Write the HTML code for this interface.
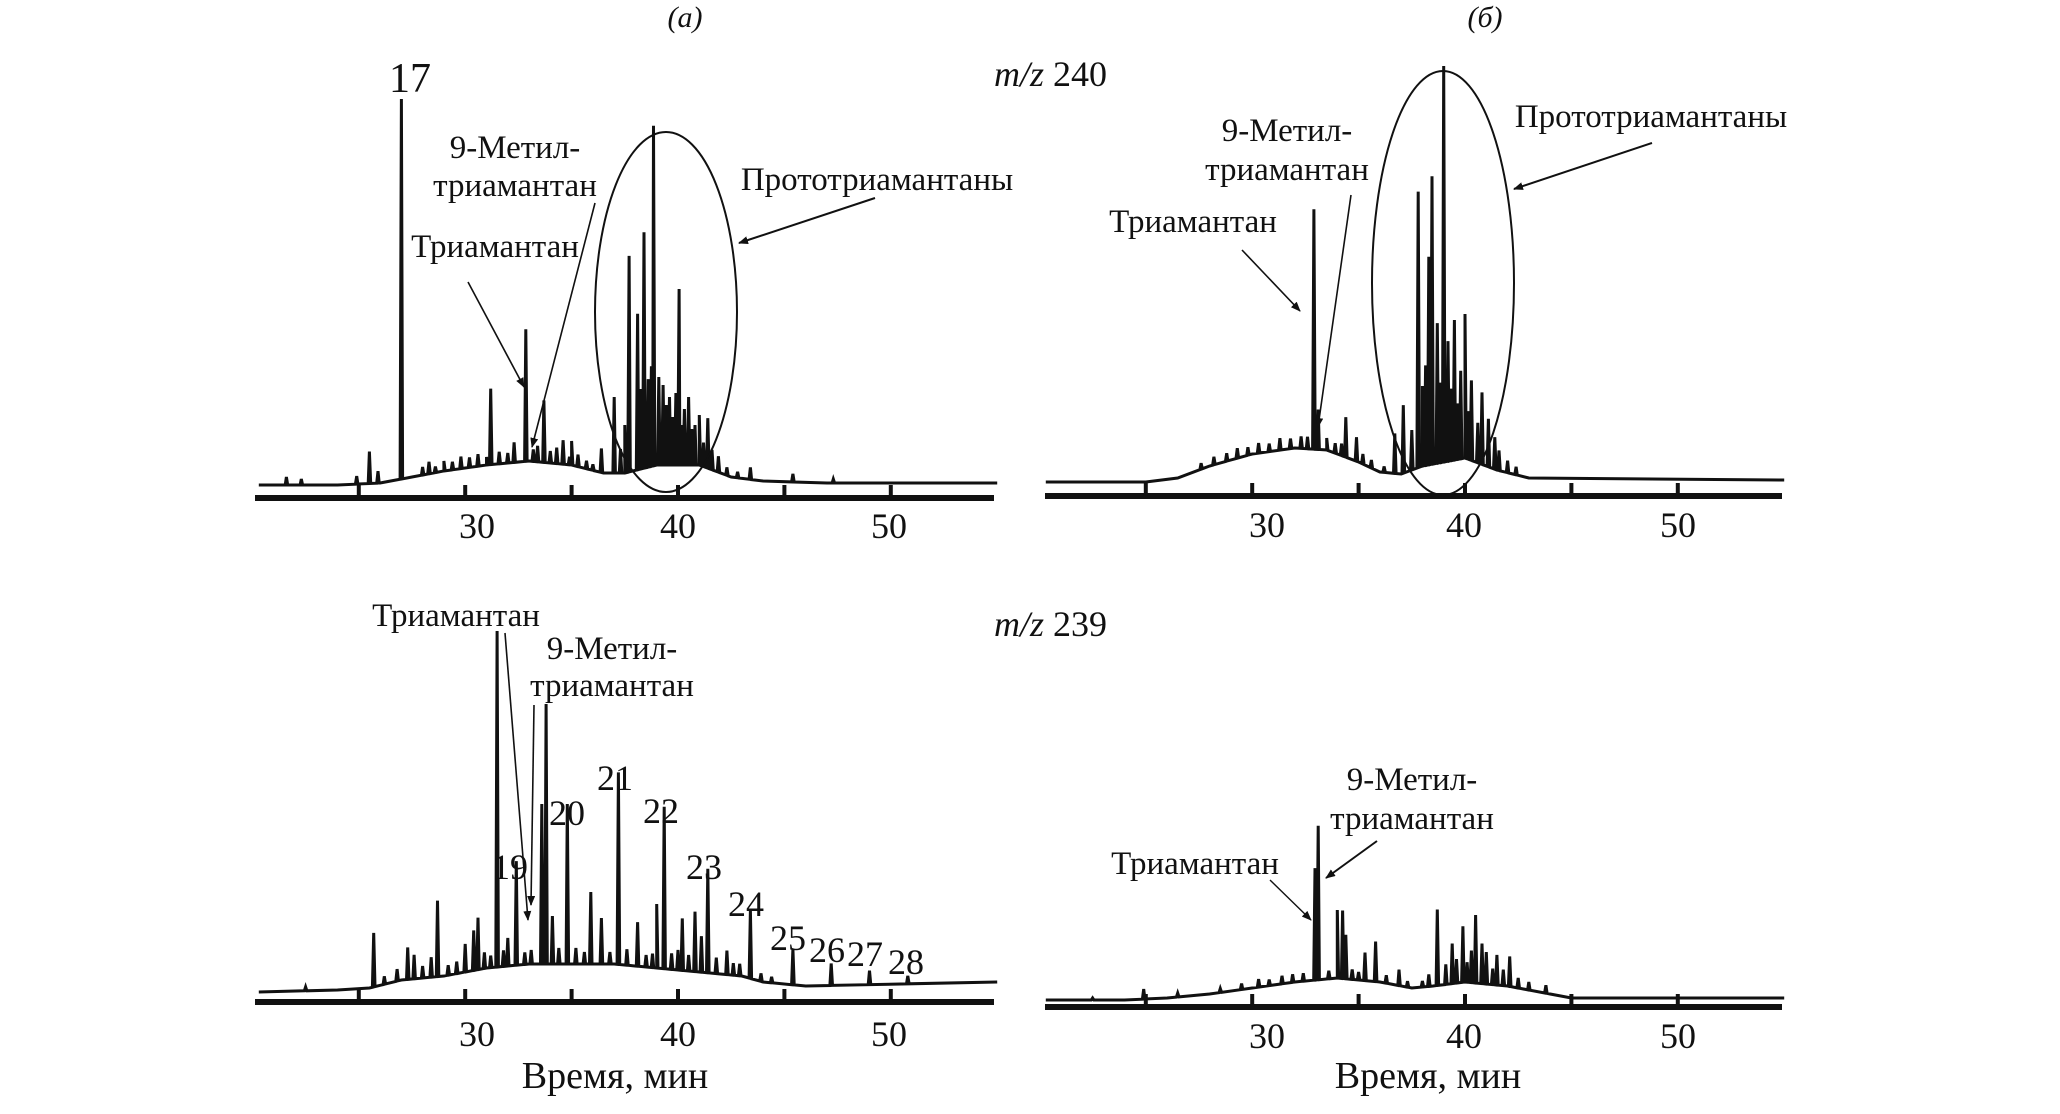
<!DOCTYPE html>
<html><head><meta charset="utf-8"><style>
html,body{margin:0;padding:0;background:#fff;}
svg{display:block;}
text{font-family:"Liberation Serif",serif;fill:#111;}
</style></head><body>
<svg id="fig" width="2060" height="1114" viewBox="0 0 2060 1114" xmlns="http://www.w3.org/2000/svg">
<defs><marker id="ah" markerWidth="10" markerHeight="8" refX="9" refY="4" orient="auto" markerUnits="userSpaceOnUse"><path d="M0,0 L10,4 L0,8 Z" fill="#111"/></marker></defs>
<text x="685" y="27" font-size="30" font-style="italic" text-anchor="middle">(а)</text>
<text x="1485" y="27" font-size="30" font-style="italic" text-anchor="middle">(б)</text>
<text x="1107" y="86" font-size="36" text-anchor="end"><tspan font-style="italic">m/z</tspan> 240</text>
<text x="1107" y="636" font-size="36" text-anchor="end"><tspan font-style="italic">m/z</tspan> 239</text>
<g id="plots"></g>
<g id="ann">
<text x="410" y="92" font-size="42" text-anchor="middle">17</text>
<ellipse cx="666" cy="312" rx="71" ry="180" fill="none" stroke="#111" stroke-width="2"/>
<text x="877" y="190" font-size="33" text-anchor="middle">Прототриамантаны</text>
<line x1="875" y1="198" x2="739" y2="243" stroke="#111" stroke-width="2" marker-end="url(#ah)"/>
<text x="515" y="158" font-size="33" text-anchor="middle">9-Метил-</text>
<text x="515" y="196" font-size="33" text-anchor="middle">триамантан</text>
<line x1="595" y1="203" x2="532" y2="447" stroke="#111" stroke-width="1.6" marker-end="url(#ah)"/>
<text x="495" y="257" font-size="33" text-anchor="middle">Триамантан</text>
<line x1="468" y1="282" x2="524" y2="387" stroke="#111" stroke-width="1.6" marker-end="url(#ah)"/>
<ellipse cx="1443" cy="283" rx="71" ry="212" fill="none" stroke="#111" stroke-width="2"/>
<text x="1651" y="127" font-size="33" text-anchor="middle">Прототриамантаны</text>
<line x1="1652" y1="143" x2="1514" y2="189" stroke="#111" stroke-width="2" marker-end="url(#ah)"/>
<text x="1287" y="141" font-size="33" text-anchor="middle">9-Метил-</text>
<text x="1287" y="180" font-size="33" text-anchor="middle">триамантан</text>
<line x1="1351" y1="195" x2="1318" y2="427" stroke="#111" stroke-width="1.6" marker-end="url(#ah)"/>
<text x="1193" y="232" font-size="33" text-anchor="middle">Триамантан</text>
<line x1="1242" y1="250" x2="1300" y2="311" stroke="#111" stroke-width="1.6" marker-end="url(#ah)"/>
<text x="456" y="626" font-size="33" text-anchor="middle">Триамантан</text>
<line x1="505" y1="633" x2="528" y2="920" stroke="#111" stroke-width="1.6" marker-end="url(#ah)"/>
<text x="612" y="659" font-size="33" text-anchor="middle">9-Метил-</text>
<text x="612" y="696" font-size="33" text-anchor="middle">триамантан</text>
<line x1="534" y1="705" x2="531" y2="905" stroke="#111" stroke-width="1.6" marker-end="url(#ah)"/>
<text x="1195" y="874" font-size="33" text-anchor="middle">Триамантан</text>
<line x1="1270" y1="880" x2="1311" y2="920" stroke="#111" stroke-width="1.4" marker-end="url(#ah)"/>
<text x="1412" y="790" font-size="33" text-anchor="middle">9-Метил-</text>
<text x="1412" y="829" font-size="33" text-anchor="middle">триамантан</text>
<line x1="1377" y1="841" x2="1326" y2="878" stroke="#111" stroke-width="2" marker-end="url(#ah)"/>
<text x="510" y="879" font-size="36" text-anchor="middle">19</text>
<text x="567" y="825" font-size="36" text-anchor="middle">20</text>
<text x="615" y="790" font-size="36" text-anchor="middle">21</text>
<text x="661" y="823" font-size="36" text-anchor="middle">22</text>
<text x="704" y="879" font-size="36" text-anchor="middle">23</text>
<text x="746" y="916" font-size="36" text-anchor="middle">24</text>
<text x="788" y="950" font-size="36" text-anchor="middle">25</text>
<text x="827" y="962" font-size="36" text-anchor="middle">26</text>
<text x="865" y="966" font-size="36" text-anchor="middle">27</text>
<text x="906" y="974" font-size="36" text-anchor="middle">28</text>
<text x="615" y="1088" font-size="38" text-anchor="middle">Время, мин</text>
<text x="1428" y="1088" font-size="38" text-anchor="middle">Время, мин</text>
</g>
</svg>
<script>
// ---- data (retention time, min; intensity, arb. units) ----
const tickTimes = [25, 30, 35, 40, 45, 50];
const tickLabels = ["30", "40", "50"];

const topAPeakT = [21.6,22.3,24.9,25.5,25.9,27.0,28.3,31.2,32.3,32.85,33.7,34.6,35.0,36.4,37.0,37.5,37.7,38.1,38.4,38.6,38.85,39.1,39.3,39.6,39.9,40.05,40.3,40.5,40.8,41.0,41.4,41.9,43.4,45.4,47.3];
const topAPeakH = [2,1.5,2,8,3,95,3,19,5,33,15.5,6,6,6,19,12,54,39,59,22,85,22,20,17,18,44,14,17,10,12.5,12.5,4,3,2,1];
const topANoiseT = [28.0,28.6,29.0,29.4,29.8,30.2,30.6,31.0,31.6,32.0,33.2,33.4,34.0,34.3,34.9,35.3,35.7,36.0,37.3,38.25,38.75,39.45,39.75,40.15,40.65,41.2,41.6,42.3,42.8];
const topANoiseH = [2,1.5,2.5,2,3,2.5,3,2,3,2.5,3,4,3,4,2,3,2,1.5,6,20,25,15,12,10,9,6,5,2,1.5];
const topAHumpT = [20.3,24,26,27.5,29,31,33,35,36.5,37.5,39,41,42.5,44,47,55];
const topAHumpV = [0,0,0.5,2,3.5,5,6,5,3,3,5,5,2,1,0.5,0.5];

const topBPeakT = [32.9,33.1,34.4,34.9,36.7,37.1,37.8,38.0,38.3,38.45,38.7,39.0,39.2,39.5,39.8,40.0,40.3,40.8,41.1,41.4,42.0];
const topBPeakH = [60,10,10,6,10,17,69,20,52,72,35,99,30,35,22,36,20,18,12,8,3];
const topBNoiseT = [27.6,28.2,28.8,29.3,29.8,30.3,30.8,31.3,31.8,32.3,32.6,33.5,33.9,34.2,35.2,35.6,36.2,37.5,38.15,38.85,39.35,39.65,40.15,40.6,41.6,42.4];
const topBNoiseH = [1.5,2,2,2.5,2,2.5,2,3,2.5,3,3,3,2.5,3,2.5,2,1.5,10,25,20,18,14,12,10,5,2];
const topBHumpT = [20.3,25,26.5,28,30,32,33.5,35,36,37,38,40,41.5,43,55];
const topBHumpV = [0,0,1,4,7,8.5,8,5,2.5,2,4,6,3,1,0.5];

const botAPeakT = [22.5,25.7,27.3,27.6,28.4,28.7,30.0,30.4,30.6,31.5,32.0,32.4,33.6,33.8,34.1,34.8,35.9,36.4,37.2,38.1,39.0,39.35,40.2,40.8,41.1,41.4,42.3,43.4,45.4,47.2,49.0,50.8];
const botAPeakH = [1,13.5,8,6,5,19,7,10,13,84,7,26,40,65,12,40,18,11.5,48,11,16,40.5,13,15,9,26,6,17,9,5.5,3.5,2];
const botANoiseT = [26.2,26.8,28.0,29.2,29.6,30.9,31.2,31.8,32.8,33.1,34.4,35.2,35.6,36.8,37.6,38.5,38.8,39.7,40.0,40.5,41.8,42.6,42.9,43.9,44.4];
const botANoiseH = [2,3,3,2.5,3,4,3,4,3,3.5,4,4,3,3,4,3,3.5,4,5,4,4,3,3,2,1.5];
const botAHumpT = [20.3,24,25.5,27,29,31,33,35,37,39,41,43,44,46,55];
const botAHumpV = [0,0.5,1,3,4,6,7,7,7,6,5,4,2.5,1.5,2.5];

const botBPeakT = [22.5,24.9,26.5,32.95,33.1,34.0,34.25,34.4,35.3,35.8,36.9,38.3,38.7,39.1,39.4,39.9,40.3,40.5,40.8,41.0,41.5,42.1,43.8];
const botBPeakH = [0.5,2.5,1,28,38.5,17,17,11,7,10,4,3,19,5,10,14,8,17,10,8,7.5,7.5,2];
const botBNoiseT = [28.5,29.5,30.3,30.8,31.4,31.9,32.4,33.6,34.7,35.0,36.3,37.3,38.0,39.6,40.1,41.3,41.8,42.5,43.0];
const botBNoiseH = [1,1.5,2,1.5,2,2,2,2,2.5,2,2,1.5,1.5,6,5,4,4,2.5,2];
const botBHumpT = [20.3,24,26,28,30,32,34,36,37.5,38.5,40,42,44,45,55];
const botBHumpV = [0,0,0.5,1.5,3,4.5,5.5,4.5,3,3.5,4.5,3.5,1.5,0.5,0.5];

// ---- layout ----
const NS = "http://www.w3.org/2000/svg";
const PX_PER_MIN = 21.28, PX_PER_UNIT = 4;
const panels = [
  {name:"top-a", dx:0,   base:485, axisY:498, labelY:538, axL:255, axR:994,  pt:topAPeakT.concat(topANoiseT), ph:topAPeakH.concat(topANoiseH), ht:topAHumpT, hv:topAHumpV, lx:[477,678,889]},
  {name:"top-b", dx:787, base:482, axisY:496, labelY:537, axL:1045,axR:1782, pt:topBPeakT.concat(topBNoiseT), ph:topBPeakH.concat(topBNoiseH), ht:topBHumpT, hv:topBHumpV, lx:[1267,1464,1678]},
  {name:"bottom-a", dx:0,   base:992, axisY:1002, labelY:1046, axL:255, axR:994,  pt:botAPeakT.concat(botANoiseT), ph:botAPeakH.concat(botANoiseH), ht:botAHumpT, hv:botAHumpV, lx:[477,678,889]},
  {name:"bottom-b", dx:787, base:1000,axisY:1007, labelY:1048, axL:1045,axR:1782, pt:botBPeakT.concat(botBNoiseT), ph:botBPeakH.concat(botBNoiseH), ht:botBHumpT, hv:botBHumpV, lx:[1267,1464,1678]}
];
function xScale(p, t){ return 678 + p.dx + (t - 40) * PX_PER_MIN; }
function yScale(p, v){ return p.base - v * PX_PER_UNIT; }
function humpAt(p, t){
  const T = p.ht, V = p.hv;
  if (t <= T[0]) return V[0];
  for (let i = 1; i < T.length; i++) {
    if (t <= T[i]) { const f = (t - T[i-1]) / (T[i] - T[i-1]); return V[i-1] + f * (V[i] - V[i-1]); }
  }
  return V[V.length - 1];
}
const root = document.getElementById("plots");
panels.forEach(p => {
  const g = document.createElementNS(NS, "g");
  
  
  root.appendChild(g);
  const ax = document.createElementNS(NS, "line");
  
  
  ax.setAttribute("x1", p.axL); ax.setAttribute("x2", p.axR);
  ax.setAttribute("y1", p.axisY); ax.setAttribute("y2", p.axisY);
  ax.setAttribute("stroke", "#111"); ax.setAttribute("stroke-width", "6");
  g.appendChild(ax);
  tickTimes.forEach(tt => {
    const tk = document.createElementNS(NS, "line");
    
    
    const x = xScale(p, tt);
    tk.setAttribute("x1", x); tk.setAttribute("x2", x);
    tk.setAttribute("y1", p.axisY); tk.setAttribute("y2", p.axisY - 13);
    tk.setAttribute("stroke", "#111"); tk.setAttribute("stroke-width", "4");
    g.appendChild(tk);
  });
  tickLabels.forEach((lab, i) => {
    const tx = document.createElementNS(NS, "text");
    
    
    tx.setAttribute("x", p.lx[i]); tx.setAttribute("y", p.labelY);
    tx.setAttribute("font-size", "36"); tx.setAttribute("text-anchor", "middle");
    tx.textContent = lab;
    g.appendChild(tx);
  });
  const W = 0.06;
  let pts = [];
  p.ht.forEach(t => pts.push([t, humpAt(p, t)]));
  p.pt.forEach((t, i) => {
    pts.push([t - W, humpAt(p, t - W)]);
    pts.push([t, humpAt(p, t) + p.ph[i]]);
    pts.push([t + W, humpAt(p, t + W)]);
  });
  pts = pts.filter(q => q[0] >= 20.3 && q[0] <= 55).sort((a, b) => a[0] - b[0]);
  let d = "";
  pts.forEach((q, i) => { d += (i ? "L" : "M") + xScale(p, q[0]).toFixed(1) + "," + yScale(p, q[1]).toFixed(1); });
  const path = document.createElementNS(NS, "path");
  
  
  path.setAttribute("d", d);
  path.setAttribute("fill", "none"); path.setAttribute("stroke", "#111");
  path.setAttribute("stroke-width", "3"); path.setAttribute("stroke-linejoin", "miter");
  g.appendChild(path);
});
</script>
</body></html>
